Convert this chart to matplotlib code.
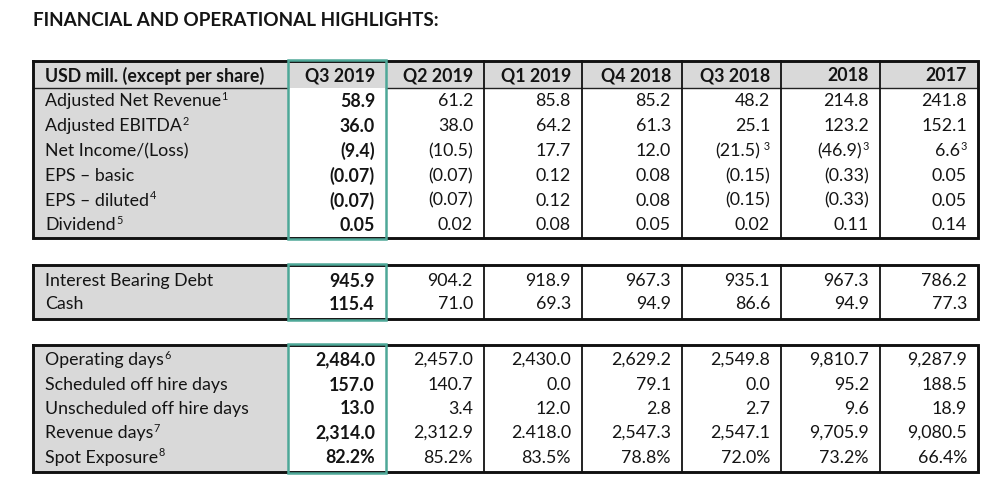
import matplotlib
matplotlib.use("Agg")
import matplotlib.pyplot as plt
from matplotlib.patches import Rectangle

# ---------------- data ----------------
title = "FINANCIAL AND OPERATIONAL HIGHLIGHTS:"
header_label = "USD mill. (except per share)"
columns = ["Q3 2019", "Q2 2019", "Q1 2019", "Q4 2018", "Q3 2018", "2018", "2017"]

# block 1
fin_labels = ["Adjusted Net Revenue", "Adjusted EBITDA", "Net Income/(Loss)",
              "EPS \u2013 basic", "EPS \u2013 diluted", "Dividend"]
fin_label_notes = ["1", "2", "", "", "4", "5"]
adj_net_revenue = ["58.9", "61.2", "85.8", "85.2", "48.2", "214.8", "241.8"]
adj_ebitda = ["36.0", "38.0", "64.2", "61.3", "25.1", "123.2", "152.1"]
net_income = ["(9.4)", "(10.5)", "17.7", "12.0", "(21.5)", "(46.9)", "6.6"]
net_income_notes = ["", "", "", "", " 3", "3", "3"]
eps_basic = ["(0.07)", "(0.07)", "0.12", "0.08", "(0.15)", "(0.33)", "0.05"]
eps_diluted = ["(0.07)", "(0.07)", "0.12", "0.08", "(0.15)", "(0.33)", "0.05"]
dividend = ["0.05", "0.02", "0.08", "0.05", "0.02", "0.11", "0.14"]

# block 2
debt_labels = ["Interest Bearing Debt", "Cash"]
debt_label_notes = ["", ""]
interest_bearing_debt = ["945.9", "904.2", "918.9", "967.3", "935.1", "967.3", "786.2"]
cash = ["115.4", "71.0", "69.3", "94.9", "86.6", "94.9", "77.3"]

# block 3
ops_labels = ["Operating days", "Scheduled off hire days", "Unscheduled off hire days",
              "Revenue days", "Spot Exposure"]
ops_label_notes = ["6", "", "", "7", "8"]
operating_days = ["2,484.0", "2,457.0", "2,430.0", "2,629.2", "2,549.8", "9,810.7", "9,287.9"]
scheduled_off_hire = ["157.0", "140.7", "0.0", "79.1", "0.0", "95.2", "188.5"]
unscheduled_off_hire = ["13.0", "3.4", "12.0", "2.8", "2.7", "9.6", "18.9"]
revenue_days = ["2,314.0", "2,312.9", "2.418.0", "2,547.3", "2,547.1", "9,705.9", "9,080.5"]
spot_exposure = ["82.2%", "85.2%", "83.5%", "78.8%", "72.0%", "73.2%", "66.4%"]

# ---------------- layout ----------------
W, H = 1000, 486
FONT = ["Lato", "DejaVu Sans"]
FS = 12.8
SUP_FS = 7.8
GRAY = "#d9d9d9"
TEAL = "#4ea898"
TXT = "#141414"

col_edges = [33, 288, 386, 484, 582, 682, 781, 880, 978]
pad_right = 11
label_x = 45

fig = plt.figure(figsize=(W / 100, H / 100), dpi=100)
ax = fig.add_axes([0, 0, 1, 1])
ax.set_xlim(0, W)
ax.set_ylim(H, 0)
ax.axis("off")
renderer = fig.canvas.get_renderer()


def width_of(t):
    return t.get_window_extent(renderer=renderer).width


def txt(x, y, s, ha="left", fs=FS, bold=False):
    return ax.text(x, y, s, ha=ha, va="center", fontsize=fs, family=FONT,
                   fontweight="bold" if bold else "normal", color=TXT, zorder=4)


def put_label(x, y, s, note):
    t = txt(x, y, s)
    if note:
        txt(x + width_of(t) + 0.5, y - 5, note, fs=SUP_FS)


def put_value(xr, y, s, note, bold=False):
    off = 0
    if note:
        n = txt(xr, y - 5, note, ha="right", fs=SUP_FS)
        off = width_of(n) + 0.5
    txt(xr - off, y, s, ha="right", bold=bold)


def draw_block(top, bottom, row_ys, labels, label_notes, rows, row_notes, header=None):
    x0, x1 = col_edges[0], col_edges[-1]
    ax.add_patch(Rectangle((x0, top), col_edges[1] - x0, bottom - top,
                           facecolor=GRAY, edgecolor="none", zorder=0))
    if header is not None:
        hb = header
        ax.add_patch(Rectangle((x0, top), x1 - x0, hb - top,
                               facecolor=GRAY, edgecolor="none", zorder=0))
        ax.plot([x0, col_edges[1]], [hb, hb], color="#222222", lw=1.0, zorder=2)
        ax.plot([col_edges[2], x1], [hb, hb], color="#222222", lw=1.0, zorder=2)
        hy = (top + hb) / 2 + 1
        txt(label_x, hy, header_label, bold=True)
        for i, c in enumerate(columns):
            txt(col_edges[i + 2] - pad_right, hy, c, ha="right", bold=True)
    for xe in col_edges[3:-1]:
        ax.plot([xe, xe], [top, bottom], color="#111111", lw=1.3, zorder=2)
    ax.plot([x0, x1, x1, x0, x0], [top, top, bottom, bottom, top],
            color="#111111", lw=2.1, zorder=2, solid_joinstyle="miter")
    ax.add_patch(Rectangle((col_edges[1], top - 1), col_edges[2] - col_edges[1],
                           bottom - top + 2, facecolor="none", edgecolor=TEAL,
                           lw=1.8, zorder=3))
    for r, y in enumerate(row_ys):
        put_label(label_x, y, labels[r], label_notes[r])
        for i, v in enumerate(rows[r]):
            put_value(col_edges[i + 2] - pad_right, y, v, row_notes[r][i], bold=(i == 0))


txt(33, 21, title, fs=13.6, bold=True)

empty = [""] * len(columns)
draw_block(61, 238, [101, 126, 151, 176, 200.5, 225], fin_labels, fin_label_notes,
           [adj_net_revenue, adj_ebitda, net_income, eps_basic, eps_diluted, dividend],
           [empty, empty, net_income_notes, empty, empty, empty], header=88)
draw_block(265, 319, [281, 304], debt_labels, debt_label_notes,
           [interest_bearing_debt, cash], [empty, empty])
draw_block(345, 472, [360, 385, 408.5, 433, 457.5], ops_labels, ops_label_notes,
           [operating_days, scheduled_off_hire, unscheduled_off_hire, revenue_days,
            spot_exposure], [empty] * 5)

fig.savefig("out.png", dpi=100)
